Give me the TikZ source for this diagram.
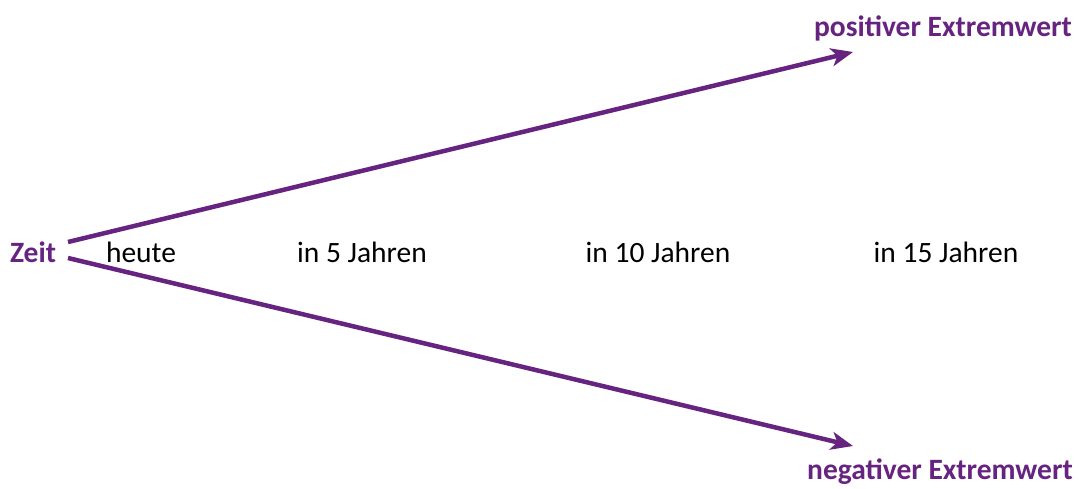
\documentclass[tikz,border=0pt]{standalone}
\usepackage{fontspec}
\setmainfont{Carlito}
\usetikzlibrary{arrows.meta}
\definecolor{lila}{HTML}{66237F}
\tikzset{
	label text/.style={font=\fontsize{29.5}{34}\selectfont, text=black, inner sep=0pt},
	extrem text/.style={font=\fontsize{29.5}{34}\selectfont\bfseries, text=lila, inner sep=0pt},
	pfeil/.style={draw=lila, line width=4.5pt, -{Stealth[length=22pt, width=18pt, inset=6pt]}}
}
\begin{document}
\begin{tikzpicture}[x=1pt, y=-1pt]
			\useasboundingbox (0,0) rectangle (1079,488);
			\node[extrem text] (zeit) at (33,252) {Zeit};
			\node[label text] (heute) at (141,252) {heute};
			\node[label text] (j5) at (362,252) {in 5 Jahren};
			\node[label text] (j10) at (658,252) {in 10 Jahren};
			\node[label text] (j15) at (946,252) {in 15 Jahren};
			\node[extrem text] (pos) at (943,28) {positiver Extremwert};
			\node[extrem text] (neg) at (940,472) {negativer Extremwert};
			\coordinate (start oben) at (68,242);
			\coordinate (start unten) at (68,258);
			\coordinate (ende oben) at (853,52);
			\coordinate (ende unten) at (853,446);
			\draw[pfeil] (start oben) -- (ende oben);
			\draw[pfeil] (start unten) -- (ende unten);
		\end{tikzpicture}
\end{document}
